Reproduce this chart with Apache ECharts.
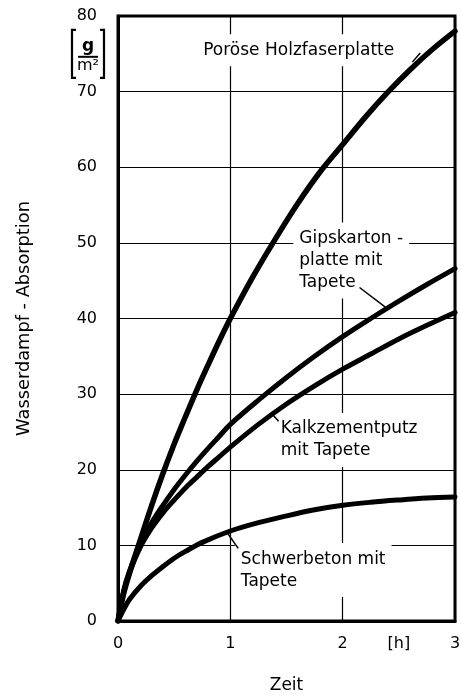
<!DOCTYPE html>
<html>
<head>
<meta charset="utf-8">
<script src="https://cdn.jsdelivr.net/npm/echarts@6/dist/echarts.min.js"></script>
<style>
html,body{margin:0;padding:0;background:#fff;}
#c{width:461px;height:697px;}
</style>
</head>
<body>
<div id="c"></div>
<script>
// ---- data ----
const tHolz = [0, 0.05, 0.1, 0.2, 0.3, 0.4, 0.5, 0.6, 0.7, 0.8, 0.9, 1.0, 1.2, 1.4, 1.6, 1.8, 2.0, 2.2, 2.4, 2.6, 2.8, 3.0];
const yHolz = [0, 3.6, 6.2, 10.8, 15.3, 19.5, 23.4, 27, 30.5, 33.8, 37, 40, 45.5, 50.5, 55.2, 59.4, 63, 66.6, 69.9, 72.9, 75.6, 78];

const tGips = [0, 0.05, 0.1, 0.2, 0.3, 0.4, 0.5, 0.6, 0.7, 0.8, 0.9, 1.0, 1.25, 1.5, 1.75, 2.0, 2.25, 2.5, 2.75, 3.0];
const yGips = [0, 4, 6.5, 10.2, 13, 15.3, 17.4, 19.3, 21.1, 22.8, 24.4, 26, 29.2, 32.2, 35, 37.6, 40, 42.3, 44.5, 46.6];

const tKalk = [0, 0.05, 0.1, 0.2, 0.3, 0.4, 0.5, 0.6, 0.7, 0.8, 0.9, 1.0, 1.25, 1.5, 1.75, 2.0, 2.25, 2.5, 2.75, 3.0];
const yKalk = [0, 3.8, 6.3, 9.8, 12.3, 14.3, 16, 17.6, 19, 20.4, 21.7, 23, 26, 28.7, 31.1, 33.3, 35.3, 37.3, 39.1, 40.8];

const tSchwer = [0, 0.05, 0.1, 0.2, 0.3, 0.4, 0.5, 0.6, 0.75, 1.0, 1.25, 1.5, 1.75, 2.0, 2.25, 2.5, 2.75, 3.0];
const ySchwer = [0, 1.5, 2.8, 4.6, 6, 7.2, 8.3, 9.2, 10.4, 11.9, 13, 13.9, 14.7, 15.3, 15.7, 16, 16.25, 16.4];

const seriesNames = ['Poröse Holzfaserplatte', 'Gipskarton -\nplatte mit\nTapete', 'Kalkzementputz\nmit Tapete', 'Schwerbeton mit\nTapete'];
const xTickLabels = ['0', '', '1', '', '2', '[h]', '3'];
const yTickLabels = ['0', '10', '20', '30', '40', '50', '60', '70', '80'];
const xTitle = 'Zeit';
const yTitle = 'Wasserdampf - Absorption';
const unitTop = 'g';
const unitBottom = 'm²';

// label anchors (data coords: top-left of text block) and leader lines (data coords)
const labelAnchors = [[0.705, 77.6], [1.56, 52.7], [1.395, 27.5], [1.04, 10.3]];
const leaders = [
  [[2.62, 73.9], [2.69, 75.1]],
  [[2.15, 44.1], [2.38, 41.5]],
  [[1.37, 27.4], [1.43, 26.4]],
  [[0.98, 11.5], [1.07, 9.6]]
];

function pairs(t, y) { return t.map((v, i) => [v, y[i]]); }

const FONT = 'DejaVu Sans';
const chart = echarts.init(document.getElementById('c'), null, {renderer: 'canvas'});

const lineStyleBase = {color: '#000', width: 5, cap: 'round'};
function mkSeries(name, t, y, w) {
  return {
    name: name, type: 'line', data: pairs(t, y), smooth: 0.35, showSymbol: false, symbol: 'none',
    lineStyle: Object.assign({}, lineStyleBase, {width: w}), z: 5, animation: false
  };
}

chart.setOption({
  animation: false,
  backgroundColor: '#fff',
  grid: {left: 118, right: 6, top: 16, bottom: 76, show: true, borderColor: '#000', borderWidth: 3,
    backgroundColor: 'transparent', z: 6, containLabel: false, outerBoundsMode: 'none'},
  xAxis: [{
    type: 'value', min: 0, max: 3, interval: 1,
    axisLine: {show: true, onZero: false, lineStyle: {color: '#000', width: 3}},
    axisTick: {show: false},
    axisLabel: {show: false},
    splitLine: {show: true, lineStyle: {color: '#000', width: 1.2}},
    name: xTitle, nameLocation: 'middle', nameGap: 56,
    nameTextStyle: {color: '#000', fontFamily: FONT, fontSize: 17}
  }, {
    type: 'value', min: 0, max: 3, interval: 0.5, position: 'bottom',
    axisLine: {show: false}, axisTick: {show: false}, splitLine: {show: false},
    axisLabel: {show: true, margin: 15, color: '#000', fontFamily: FONT, fontSize: 16,
      formatter: function (v) { return xTickLabels[Math.round(v * 2)]; }}
  }],
  yAxis: {
    type: 'value', min: 0, max: 80, interval: 10,
    axisLine: {show: true, lineStyle: {color: '#000', width: 3}},
    axisTick: {show: false},
    axisLabel: {show: true, margin: 21, color: '#000', fontFamily: FONT, fontSize: 16,
      formatter: function (v) { return yTickLabels[Math.round(v / 10)]; }},
    splitLine: {show: true, lineStyle: {color: '#000', width: 1.2}},
    name: yTitle, nameLocation: 'middle', nameGap: 85, nameRotate: 90,
    nameTextStyle: {color: '#000', fontFamily: FONT, fontSize: 17.8}
  },
  series: [
    mkSeries(seriesNames[0], tHolz, yHolz, 5.5),
    mkSeries(seriesNames[1], tGips, yGips, 5),
    mkSeries(seriesNames[2], tKalk, yKalk, 5),
    mkSeries(seriesNames[3], tSchwer, ySchwer, 5)
  ]
});

// annotations
const px = p => chart.convertToPixel({gridIndex: 0}, p);
const g = [];
seriesNames.forEach((name, i) => {
  const p = px(labelAnchors[i]);
  g.push({
    type: 'text', x: p[0], y: p[1], z: 3,
    style: {text: name, fill: '#000', font: '17px "' + FONT + '"', lineHeight: 22,
      backgroundColor: '#fff', padding: [5, 6, 5, 6], align: 'left', verticalAlign: 'top'}
  });
});
leaders.forEach(l => {
  const a = px(l[0]), b = px(l[1]);
  g.push({type: 'line', z: 60, shape: {x1: a[0], y1: a[1], x2: b[0], y2: b[1]}, style: {stroke: '#000', lineWidth: 1.5}});
});
// unit [g/m²] between 70 and 80 on the y axis
const u = px([0, 75]);
const cx = u[0] - 29;
g.push({type: 'polyline', z: 60, shape: {points: [[cx - 13, u[1] - 24], [cx - 17, u[1] - 24], [cx - 17, u[1] + 24], [cx - 13, u[1] + 24]]}, style: {stroke: '#000', lineWidth: 2.2, fill: null}});
g.push({type: 'polyline', z: 60, shape: {points: [[cx + 11, u[1] - 24], [cx + 15, u[1] - 24], [cx + 15, u[1] + 24], [cx + 11, u[1] + 24]]}, style: {stroke: '#000', lineWidth: 2.2, fill: null}});
g.push({type: 'line', z: 60, shape: {x1: cx - 11, y1: u[1] + 3, x2: cx + 9, y2: u[1] + 3}, style: {stroke: '#000', lineWidth: 2}});
g.push({type: 'text', z: 60, x: cx - 1, y: u[1] + 1, style: {text: unitTop, fill: '#000', font: 'bold 17px "' + FONT + '"', align: 'center', verticalAlign: 'bottom'}});
g.push({type: 'text', z: 60, x: cx - 1, y: u[1] + 4, style: {text: unitBottom, fill: '#000', font: '16px "' + FONT + '"', align: 'center', verticalAlign: 'top'}});
chart.setOption({graphic: {elements: g}});
</script>
</body>
</html>
